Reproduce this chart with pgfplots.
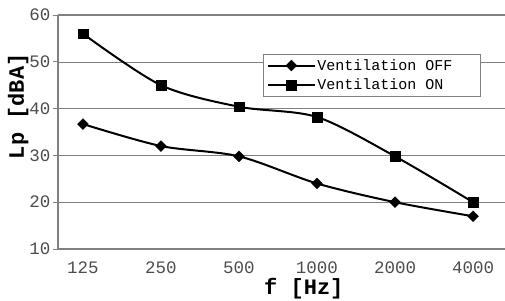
\documentclass[border=0pt]{standalone}
\usepackage{fontspec}
\setmainfont{Liberation Mono}
\setmonofont{Liberation Mono}
\usepackage{pgfplots}
\pgfplotsset{compat=1.18}
\definecolor{axgray}{RGB}{128,128,128}
\definecolor{grdgray}{RGB}{128,128,128}
\begin{document}
\begin{tikzpicture}[x=1pt,y=1pt]
\useasboundingbox (-58,-51) rectangle (447,249);
\begin{axis}[
  at={(0,0)}, anchor=south west,
  scale only axis, width=447pt, height=234pt,
  xmin=-0.32, xmax=5.41, ymin=10, ymax=60,
  xtick={0,1,2,3,4,5},
  xticklabels={125,250,500,1000,2000,4000},
  ytick={10,20,30,40,50,60},
  axis x line*=bottom, axis y line*=left,
  axis line style={draw=axgray, line width=1.6pt},
  x axis line style={-}, y axis line style={-},
  ymajorgrids, grid style={draw=grdgray, line width=0.6pt},
  major x tick style={draw=none},
  major y tick style={draw=axgray, line width=0.8pt},
  tick align=outside, major tick length=5pt,
  /pgf/number format/assume math mode=true,
  tick label style={font=\fontsize{17.5}{17.5}\selectfont, text=black!70},
  xticklabel style={yshift=-4pt},
  yticklabel style={xshift=1pt},
  xlabel={\textbf{f [Hz]}},
  ylabel={\textbf{Lp [dBA]}},
  label style={font=\fontsize{22}{22}\selectfont},
  xlabel style={at={(axis description cs:0.55,0)}, anchor=north, yshift=-26pt},
  ylabel style={at={(axis description cs:0,0.61)}, anchor=south, xshift=0pt, yshift=26pt},
  legend style={at={(205pt,195pt)}, anchor=north west, draw=axgray, line width=0.8pt,
    fill=white, font=\fontsize{15}{15}\selectfont, inner xsep=4pt, inner ysep=3pt, row sep=3pt,
    cells={anchor=west}},
  legend image code/.code={\draw[mark repeat=2,mark phase=2,#1] plot coordinates {(0pt,0pt) (23pt,0pt) (46pt,0pt)};},
  clip=false,
]
\addplot[black, line width=2pt, smooth, tension=0.5, mark=diamond*, mark size=5.5pt, mark options={solid, fill=black, line width=0.3pt, xscale=1.33}]
  coordinates {(0,36.7) (1,32.0) (2,29.8) (3,24.0) (4,20.0) (5,17.0)};
\addlegendentry{Ventilation OFF\hspace*{22pt}}
\addplot[black, line width=2pt, smooth, tension=0.5, mark=square*, mark size=4.8pt, mark options={solid, fill=black, line width=0.3pt}]
  coordinates {(0,56.0) (1,45.0) (2,40.4) (3,38.2) (4,29.8) (5,20.0)};
\addlegendentry{Ventilation ON}
\draw[axgray, line width=1.6pt] (rel axis cs:0,1) -- (rel axis cs:1,1);
\end{axis}
\end{tikzpicture}
\end{document}
